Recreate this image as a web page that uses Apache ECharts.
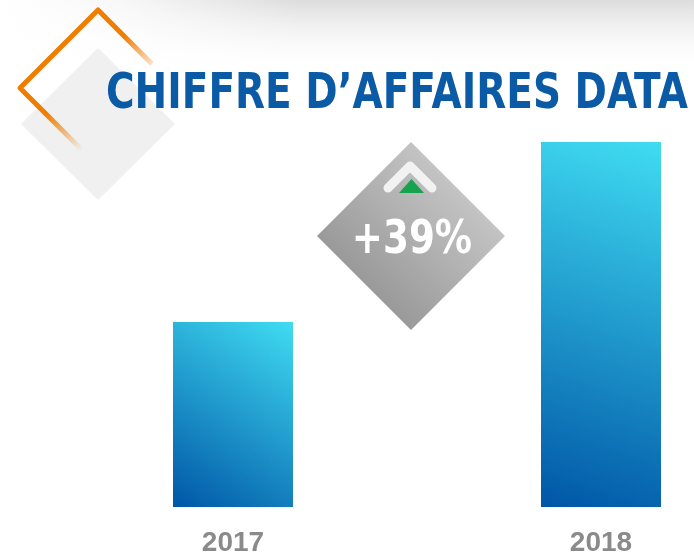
<!DOCTYPE html>
<html>
<head>
<meta charset="utf-8">
<script src="https://cdn.jsdelivr.net/npm/echarts@6/dist/echarts.min.js"></script>
<style>
  html, body { margin: 0; padding: 0; background: #fff; }
  #main { width: 694px; height: 557px; }
</style>
</head>
<body>
<div id="main"></div>
<script>
// données (hauteurs relatives des barres)
var years = ['2017', '2018'];
var values = [185, 365];
var titleText = 'CHIFFRE D\u2019AFFAIRES DATA';
var growthText = '+39%';

var main = echarts.init(document.getElementById('main'));
var LG = echarts.graphic.LinearGradient;

var option = {
	backgroundColor: '#ffffff',
	animation: false,
	grid: { left: 233, right: 93, top: 142, bottom: 50 },
	xAxis: {
		type: 'category',
		data: years,
		boundaryGap: false,
		axisLine: { show: false },
		axisTick: { show: false },
		axisLabel: {
			color: '#8a8a8a',
			fontSize: 28,
			fontWeight: 'bold',
			fontFamily: 'Liberation Sans',
			margin: 22
		}
	},
	yAxis: {
		type: 'value',
		min: 0,
		max: 365,
		show: false
	},
	graphic: [
		// fond gris en haut
		{
			type: 'rect', z: -10, silent: true,
			shape: { x: 0, y: 0, width: 694, height: 75 },
			style: {
				fill: new LG(0, 0, 0, 1, [
					{ offset: 0, color: '#dcdcdc' },
					{ offset: 1, color: 'rgba(255,255,255,0)' }
				])
			}
		},
		{
			type: 'rect', z: -9, silent: true,
			shape: { x: 0, y: 0, width: 300, height: 75 },
			style: {
				fill: new LG(0, 0, 1, 0, [
					{ offset: 0, color: 'rgba(255,255,255,1)' },
					{ offset: 0.4, color: 'rgba(255,255,255,0.8)' },
					{ offset: 1, color: 'rgba(255,255,255,0)' }
				])
			}
		},
		// losange gris clair
		{
			type: 'polygon', z: 1, silent: true,
			shape: { points: [[98, 48], [175, 124], [98, 200], [21, 124]] },
			style: { fill: '#f0f0f0' }
		},
		// losange orange
		{
			type: 'polyline', z: 2, silent: true,
			shape: { points: [[152, 64], [98, 10], [20, 88], [96, 164]] },
			style: {
				stroke: new LG(80, 80, 116, 116, [
					{ offset: 0, color: 'rgba(239,125,0,1)' },
					{ offset: 1, color: 'rgba(239,125,0,0)' }
				], true),
				lineWidth: 5,
				lineJoin: 'round',
				fill: null
			}
		},
		// titre
		{
			type: 'text', z: 5, silent: true,
			x: 106, y: 95, scaleX: 0.796,
			style: {
				text: titleText,
				font: 'bold 49px "DejaVu Sans"',
				fill: '#0b5aa6',
				textAlign: 'left',
				textVerticalAlign: 'middle'
			}
		},
		// losange +39%
		{
			type: 'polygon', z: 3, silent: true,
			shape: { points: [[411, 142], [505, 236], [411, 330], [317, 236]] },
			style: {
				fill: new LG(1, 0, 0, 1, [
					{ offset: 0, color: '#d8d8d8' },
					{ offset: 1, color: '#858585' }
				])
			}
		},
		{
			type: 'polyline', z: 4, silent: true,
			shape: { points: [[388, 188], [410, 166], [432, 188]] },
			style: { stroke: '#f2f2f2', lineWidth: 9, lineCap: 'round', lineJoin: 'round', fill: null }
		},
		{
			type: 'polygon', z: 5, silent: true,
			shape: { points: [[399, 193], [424, 193], [411.5, 179]] },
			style: { fill: '#17a34d' }
		},
		{
			type: 'text', z: 5, silent: true,
			x: 412, y: 241, scaleX: 0.81,
			style: {
				text: growthText,
				font: 'bold 46px "DejaVu Sans"',
				fill: '#ffffff',
				textAlign: 'center',
				textVerticalAlign: 'middle'
			}
		}
	],
	series: [{
		type: 'bar',
		data: values,
		barWidth: 120,
		itemStyle: {
			color: new LG(1, 0, 0, 1, [
				{ offset: 0, color: '#40dcf2' },
				{ offset: 1, color: '#0056a6' }
			])
		}
	}]
};
main.setOption(option);
</script>
</body>
</html>
